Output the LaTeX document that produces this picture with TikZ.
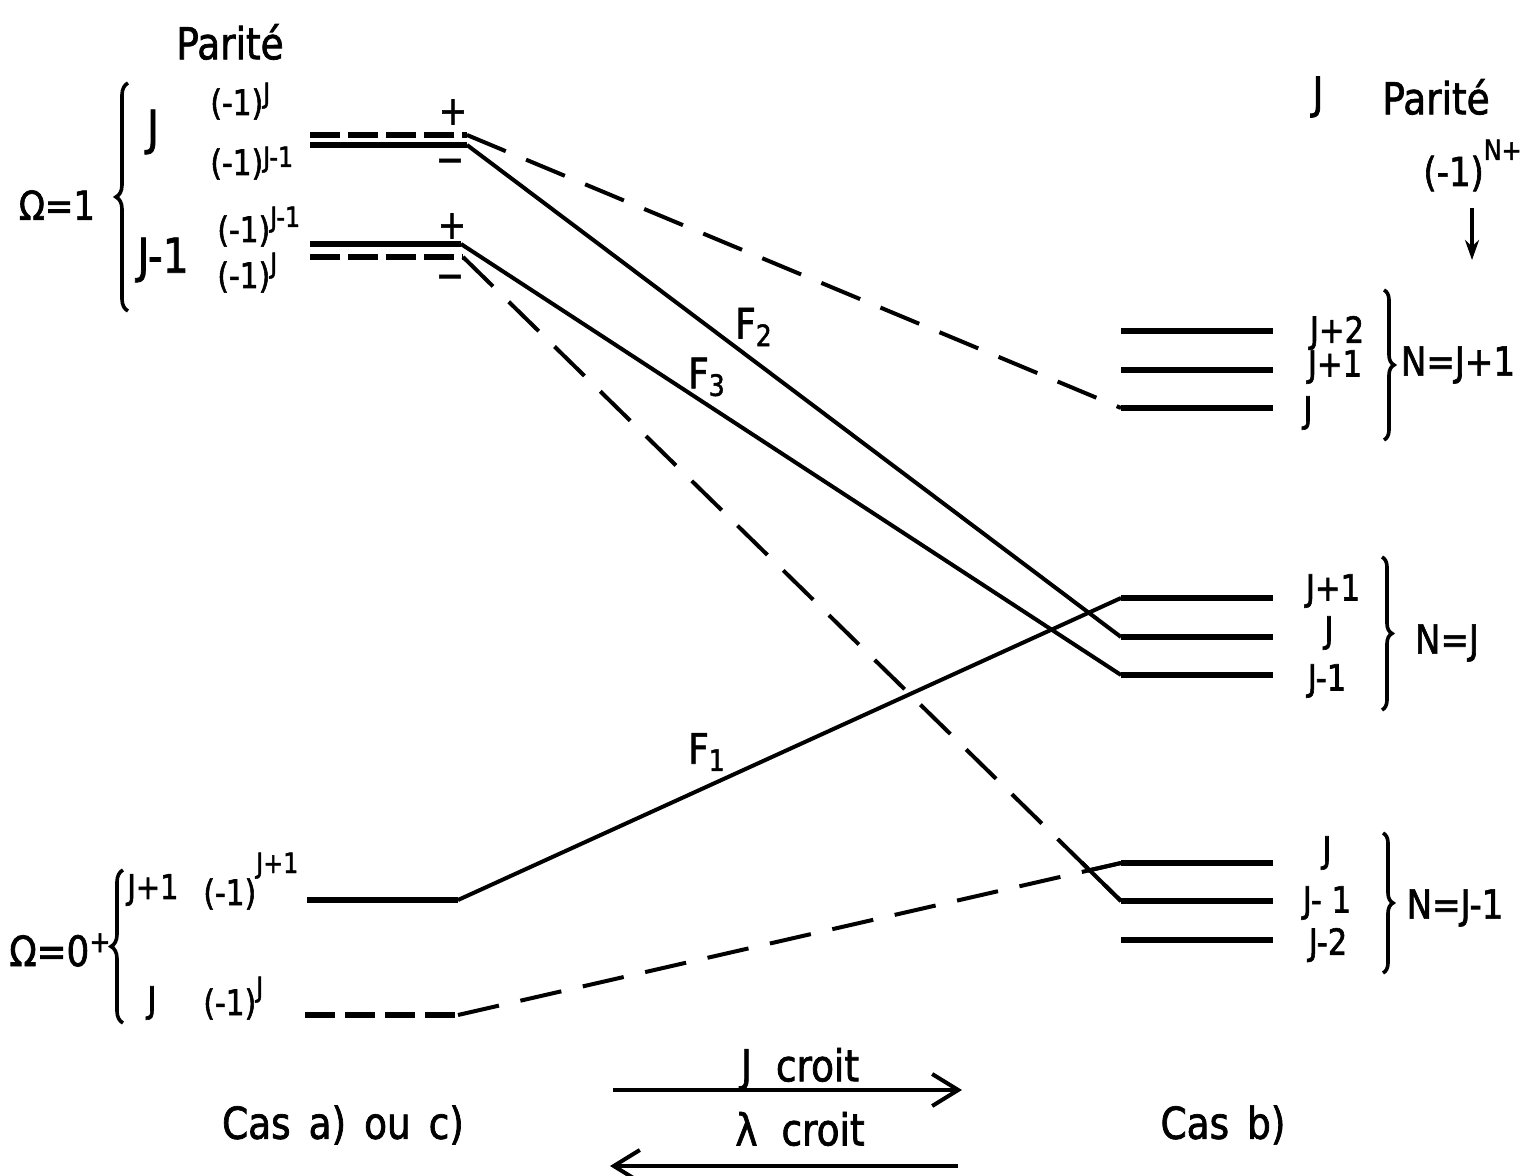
\documentclass[tikz,border=0pt]{standalone}
\usepackage{fontspec}
\setmainfont{DejaVu Sans}[FakeStretch=0.85,FakeBold=1.6]
\usetikzlibrary{arrows.meta,decorations.pathreplacing,positioning,calc}

% (-1) with a raised exponent: #1 exponent, #2 raise
\newcommand{\sgn}[2]{(-1)\raisebox{#2}{\fontsize{14}{16}\selectfont #1}}

\begin{document}
\begin{tikzpicture}[x=0.5pt,y=-0.5pt,>={Stealth[length=10pt,width=7pt]},
  level/.style={line width=3pt},
  dlevel/.style={line width=3pt,dash pattern=on 15pt off 4pt},
  corr/.style={line width=2pt},
  dcorr/.style={line width=2pt,dash pattern=on 21pt off 11pt},
  big/.style={inner sep=0pt,font=\fontsize{22}{26}\selectfont},
  lbl/.style={inner sep=0pt,font=\fontsize{21}{25}\selectfont},
  par/.style={inner sep=0pt,anchor=base west,font=\fontsize{17.5}{20}\selectfont},
  small/.style={inner sep=0pt,font=\fontsize{18}{21}\selectfont},
  sign/.style={inner sep=0pt,font=\fontsize{20}{22}\selectfont},
  lbrace/.style={decorate,decoration={brace,amplitude=6pt},line width=1.8pt},
  rbrace/.style={decorate,decoration={brace,amplitude=5pt},line width=1.8pt}]

\useasboundingbox (0,0) rectangle (1536,1176);

% niveaux a gauche, Omega = 1
\coordinate (aJdl) at (310,135); \coordinate (aJdr) at (467,135);
\coordinate (aJsl) at (310,145); \coordinate (aJsr) at (467,145);
\coordinate (aKsl) at (310,244); \coordinate (aKsr) at (461,244);
\coordinate (aKdl) at (310,257); \coordinate (aKdr) at (463,257);
% niveaux a gauche, Omega = 0+
\coordinate (bJl) at (307,900); \coordinate (bJr) at (458,900);
\coordinate (bKl) at (305,1015); \coordinate (bKr) at (458,1015);

\draw[dlevel] (aJdl) -- (aJdr);
\draw[level] (aJsl) -- (aJsr);
\draw[level] (aKsl) -- (aKsr);
\draw[dlevel] (aKdl) -- (aKdr);
\draw[level] (bJl) -- (bJr);
\draw[dlevel,dash pattern=on 15pt off 5pt] (bKl) -- (bKr);

% niveaux a droite
\foreach \n/\y in {c1/331,c2/370,c3/408,d1/598,d2/637,d3/675,e1/863,e2/901,e3/940}{
  \coordinate (\n l) at (1121,\y);
  \coordinate (\n r) at (1273,\y);
  \draw[level] (\n l) -- (\n r);
}

% correlations
\draw[dcorr] (aJdr) -- (c3l);
\draw[corr] (aJsr) -- (d2l);
\draw[corr] (aKsr) -- (d3l);
\draw[dcorr] (aKdr) -- (e2l);
\draw[corr] ($(e2l)!0.06!(aKdr)$) -- (e2l);
\draw[corr] (bJr) -- (d1l);
\draw[dcorr] (bKr) -- (e1l);
\draw[corr] ($(e1l)!0.05!(bKr)$) -- (e1l);

\node[lbl] (F2) at (754,327) {F\textsubscript{2}};
\node[lbl] (F3) at (707,377) {F\textsubscript{3}};
\node[lbl] (F1) at (707,752) {F\textsubscript{1}};

% signes
\node[sign] (p1) at (453,112) {+};
\node[sign] (m1) at (450,166) {−};
\node[sign] (p2) at (452,226) {+};
\node[sign] (m2) at (450,282) {−};

% legendes a gauche
\node[big] (par1) at (230,42) {Parité};
\node[lbl,font=\fontsize{20}{24}\selectfont] (om1) at (57,205) {Ω=1};
\draw[lbrace] (128,311) -- (128,83);
\node[big,font=\fontsize{24}{28}\selectfont] (lJ) at (153,132) {J};
\node[big,font=\fontsize{24}{28}\selectfont] (lK) at (163,260) {J-1};
\node[par] (s1) at (210,115) {\sgn{J}{6pt}};
\node[par] (s2) at (210,175) {\sgn{J-1}{4pt}};
\node[par] (s3) at (217,242) {\sgn{J-1}{7.5pt}};
\node[par] (s4) at (217,288) {\sgn{J}{7.5pt}};

\node[big,font=\fontsize{21}{25}\selectfont,anchor=west] (om0) at (9,950) {Ω=0\raisebox{7pt}{\fontsize{15}{17}\selectfont +}};
\draw[lbrace] (123,1023) -- (123,870);
\node[small,font=\fontsize{17}{20}\selectfont,anchor=west] (lJ1) at (127,890) {J+1};
\node[small] (lJ0) at (152,1003) {J};
\node[par] (s5) at (203,905) {\sgn{J+1}{16pt}};
\node[par] (s6) at (203,1015) {\sgn{J}{9pt}};

% legendes a droite
\node[big] (rJ) at (1318,97) {J};
\node[big] (par2) at (1436,97) {Parité};
\node[par,font=\fontsize{20}{24}\selectfont] (s7) at (1423,186) {(-1)\raisebox{13pt}{\fontsize{14}{16}\selectfont N+}};
\draw[corr,->] (1472,208) -- (1472,260);

\node[small] (tc1) at (1337,333) {J+2};
\node[small] (tc2) at (1335,367) {J+1};
\node[small] (tc3) at (1308,413) {J};
\draw[rbrace] (1384,290) -- (1384,440);
\node[lbl,font=\fontsize{20}{24}\selectfont] (nc) at (1458,365) {N=J+1};

\node[small] (td1) at (1333,591) {J+1};
\node[small] (td2) at (1329,633) {J};
\node[small] (td3) at (1327,681) {J-1};
\draw[rbrace] (1382,557) -- (1382,710);
\node[lbl,font=\fontsize{20}{24}\selectfont] (nd) at (1447,643) {N=J};

\node[small] (te1) at (1327,853) {J};
\node[small] (te2) at (1327,903) {J- 1};
\node[small] (te3) at (1328,945) {J-2};
\draw[rbrace] (1383,833) -- (1383,973);
\node[lbl,font=\fontsize{20}{24}\selectfont] (ne) at (1455,908) {N=J-1};

% en bas
\node[big] (casac) at (343,1125) {Cas\hspace{9pt}a)\hspace{9pt}ou\hspace{9pt}c)};
\node[big] (casb) at (1223,1125) {Cas\hspace{9pt}b)};
\coordinate (j0) at (613,1090); \coordinate (j1) at (962,1090);
\coordinate (l0) at (958,1166); \coordinate (l1) at (610,1166);
\draw[corr,-{Straight Barb[length=13pt,width=16pt]}] (j0) -- (j1);
\draw[corr,-{Straight Barb[length=13pt,width=16pt]}] (l0) -- (l1);
\node[big] (jcr) at (800,1069) {J\hspace{12pt}croit};
\node[big] (lcr) at (800,1129) {λ\hspace{12pt}croit};

\end{tikzpicture}
\end{document}
